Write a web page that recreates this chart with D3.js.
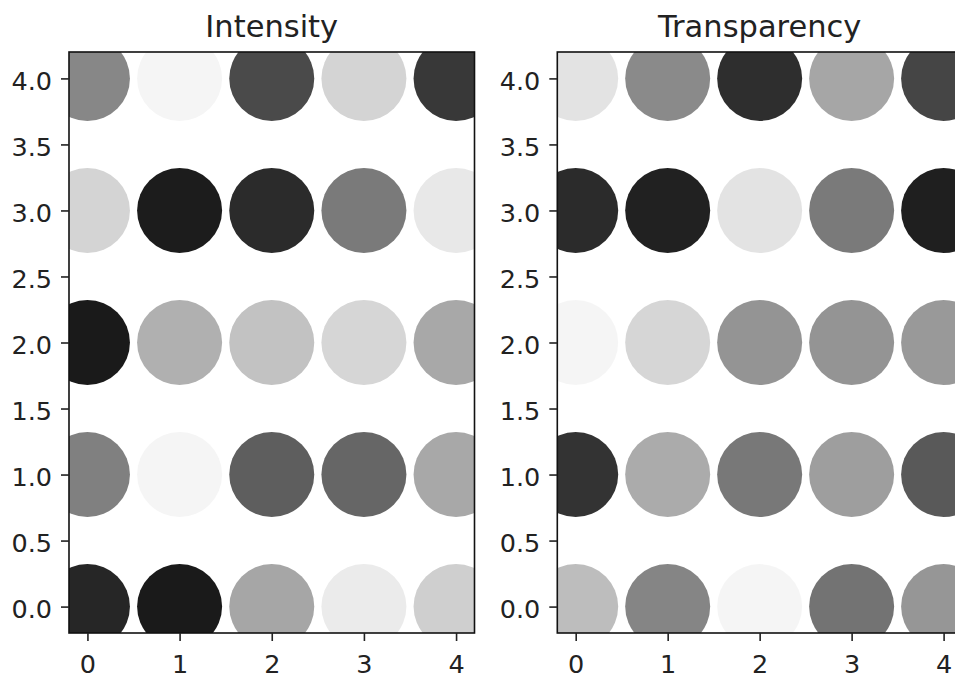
<!DOCTYPE html>
<html>
<head>
<meta charset="utf-8">
<script src="https://cdn.jsdelivr.net/npm/d3@7"></script>
<style>
  body { margin: 0; background: #fff; }
  text { font-family: 'DejaVu Sans', sans-serif; fill: #222; }
</style>
</head>
<body>
<div id="mainView"></div>
<script>
// Grid positions of the circles
const xValues = [0, 1, 2, 3, 4];
const yValues = [0, 1, 2, 3, 4];

// Darkness of each circle (0 = white, 1 = black), one array per row y = 0..4
const intensityRow0 = [0.85, 0.90, 0.35, 0.08, 0.19];
const intensityRow1 = [0.50, 0.04, 0.63, 0.60, 0.34];
const intensityRow2 = [0.90, 0.31, 0.24, 0.16, 0.34];
const intensityRow3 = [0.17, 0.89, 0.83, 0.52, 0.09];
const intensityRow4 = [0.47, 0.04, 0.71, 0.17, 0.78];

// Alpha of each black circle, one array per row y = 0..4
const alphaRow0 = [0.26, 0.48, 0.04, 0.55, 0.41];
const alphaRow1 = [0.80, 0.33, 0.53, 0.38, 0.65];
const alphaRow2 = [0.04, 0.16, 0.42, 0.42, 0.40];
const alphaRow3 = [0.83, 0.87, 0.11, 0.52, 0.88];
const alphaRow4 = [0.11, 0.46, 0.82, 0.35, 0.73];

// Tick labels
const xTicks = [0, 1, 2, 3, 4];
const yTicks = [0, 0.5, 1, 1.5, 2, 2.5, 3, 3.5, 4];

function toPoints(rows, key) {
  let pts = [];
  rows.forEach(function(row, i) {
    row.forEach(function(v, j) {
      pts.push({x: xValues[j], y: yValues[i], [key]: v});
    });
  });
  return pts;
}

const intensityData = toPoints(
    [intensityRow0, intensityRow1, intensityRow2, intensityRow3, intensityRow4], 'v');
const alphaData = toPoints(
    [alphaRow0, alphaRow1, alphaRow2, alphaRow3, alphaRow4], 'a');

const width = 955, height = 677;
const svg = d3.select('#mainView')
                .append('svg')
                .attr('width', width)
                .attr('height', height);

const plotTop = 52, plotBottom = 633;
const radius = 42.5;
const tickFont = '25.5px';
const grey = d3.scaleLinear().domain([0, 1]).range(['#ffffff', '#000000']);

function drawPanel(id, left, right, title, data, fillFn, opacityFn) {
  let x = d3.scaleLinear().domain([-0.2, 4.2]).range([left, right]);
  let y = d3.scaleLinear().domain([-0.2, 4.2]).range([plotBottom, plotTop]);

  svg.append('clipPath')
      .attr('id', 'clip-' + id)
      .append('rect')
      .attr('x', left)
      .attr('y', plotTop)
      .attr('width', right - left)
      .attr('height', plotBottom - plotTop);

  svg.append('g')
      .attr('clip-path', 'url(#clip-' + id + ')')
      .selectAll('circle')
      .data(data)
      .join('circle')
      .attr('cx', d => x(d.x))
      .attr('cy', d => y(d.y))
      .attr('r', radius)
      .attr('fill', fillFn)
      .attr('fill-opacity', opacityFn);

  // spines
  svg.append('rect')
      .attr('x', left)
      .attr('y', plotTop)
      .attr('width', right - left)
      .attr('height', plotBottom - plotTop)
      .attr('fill', 'none')
      .attr('stroke', '#111')
      .attr('stroke-width', 1.6);

  let yAxis = svg.append('g')
      .attr('transform', 'translate(' + left + ',0)')
      .call(d3.axisLeft(y).tickValues(yTicks).tickFormat(d3.format('.1f'))
                .tickSize(8).tickSizeOuter(0).tickPadding(9));
  yAxis.select('.domain').remove();
  yAxis.selectAll('line').attr('stroke', '#222').attr('stroke-width', 1.6);
  yAxis.selectAll('text')
      .attr('dy', '11.3px')
      .style('font-size', tickFont)
      .style('font-family', 'DejaVu Sans, sans-serif')
      .attr('fill', '#222');

  let xAxis = svg.append('g')
      .attr('transform', 'translate(0,' + plotBottom + ')')
      .call(d3.axisBottom(x).tickValues(xTicks).tickFormat(d3.format('d'))
                .tickSize(8).tickSizeOuter(0));
  xAxis.select('.domain').remove();
  xAxis.selectAll('line').attr('stroke', '#222').attr('stroke-width', 1.6);
  xAxis.selectAll('text')
      .attr('y', 16)
      .attr('dy', '24px')
      .style('font-size', tickFont)
      .style('font-family', 'DejaVu Sans, sans-serif')
      .attr('fill', '#222');

  svg.append('text')
      .attr('x', (left + right) / 2)
      .attr('y', 37)
      .attr('text-anchor', 'middle')
      .style('font-size', '30.5px')
      .text(title);
}

drawPanel('intensity', 69, 474.5, 'Intensity', intensityData,
          d => grey(d.v), () => 1);
drawPanel('transparency', 557.3, 962, 'Transparency', alphaData,
          () => '#000', d => d.a);
</script>
</body>
</html>
